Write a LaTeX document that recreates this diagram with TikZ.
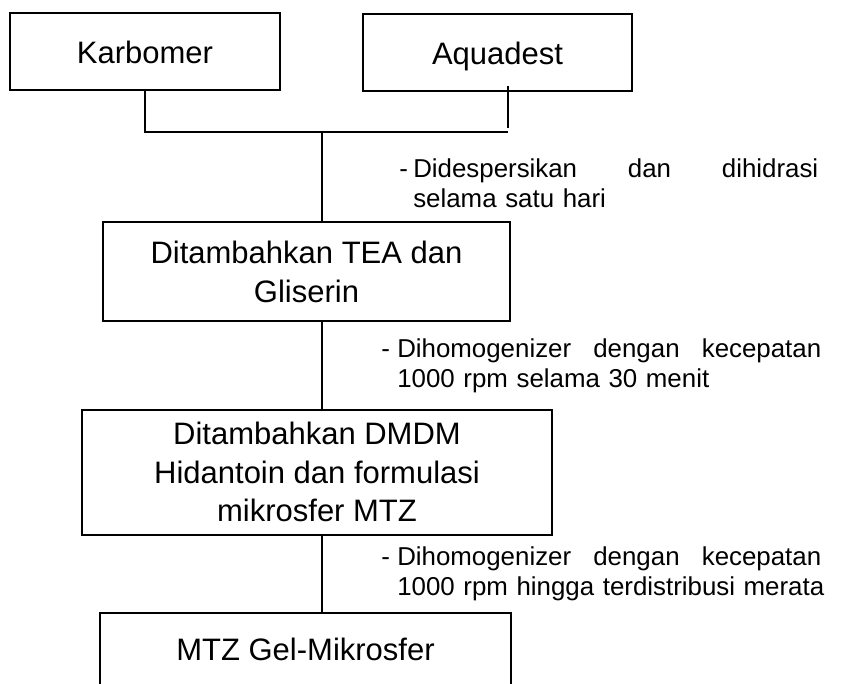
\documentclass[tikz,border=0pt]{standalone}
\usepackage{fontspec}
\setmainfont{Liberation Sans}
\begin{document}
\begin{tikzpicture}[x=0.75pt,y=-0.75pt,
    box/.style={draw,line width=1.5pt,inner sep=0pt,
        font=\fontsize{23.25}{29}\selectfont},
    note/.style={anchor=base west,inner sep=0pt,
        font=\fontsize{19.4}{22.5}\selectfont},
    link/.style={line width=1.1pt}]
    \useasboundingbox (0,0) rectangle (850,684);
    \node (karbomer) [box,minimum width=202.5pt,minimum height=57.75pt,text height=18.75pt,text depth=0pt] at (145,51.5) {Karbomer};
    \node (aquadest) [box,minimum width=201.75pt,minimum height=57.75pt,text height=18.75pt,text depth=0pt] at (497.5,52.5) {Aquadest};
    \node (tea) [box,align=center,minimum width=305.25pt,minimum height=74.25pt] at (306.5,272) {Ditambahkan TEA dan\\Gliserin};
    \node (dmdm) [box,align=center,minimum width=352.5pt,minimum height=93.75pt] at (317,472) {Ditambahkan DMDM\\Hidantoin dan formulasi\\mikrosfer MTZ};
    \node (gel) [box,anchor=north,minimum width=308.25pt,inner ysep=18pt,text height=17.25pt,text depth=30pt] at (305.5,612) {MTZ Gel-Mikrosfer};
    \node (dispersi) [note,text width=303.75pt] at (413,178) {\llap{\hbox to 10.5pt{-\hss}}\hbox to 303.75pt{Didespersikan\hfill dan\hfill dihidrasi}\\\mbox{selama satu hari}};
    \node (homogen1) [note,text width=319pt] at (397,358) {\llap{\hbox to 12pt{-\hss}}\hbox to 318pt{Dihomogenizer\hfill dengan\hfill kecepatan}\\\mbox{1000 rpm selama 30 menit}};
    \node (homogen2) [note,text width=319pt] at (397,565) {\llap{\hbox to 12pt{-\hss}}\hbox to 318pt{Dihomogenizer\hfill dengan\hfill kecepatan}\\\mbox{1000 rpm hingga terdistribusi merata}};
    \coordinate (joinR) at (508,132);
    \coordinate (joinM) at (322,132);
    \draw[link] (karbomer.south) |- (joinR);
    \draw[link] ([yshift=4.5pt]aquadest.south -| joinR) -- ([yshift=3pt]joinR);
    \draw[link] (joinM) -- (tea.north -| joinM);
    \draw[link] (tea.south -| joinM) -- (dmdm.north -| joinM);
    \draw[link] (dmdm.south -| joinM) -- (gel.north -| joinM);
\end{tikzpicture}
\end{document}
